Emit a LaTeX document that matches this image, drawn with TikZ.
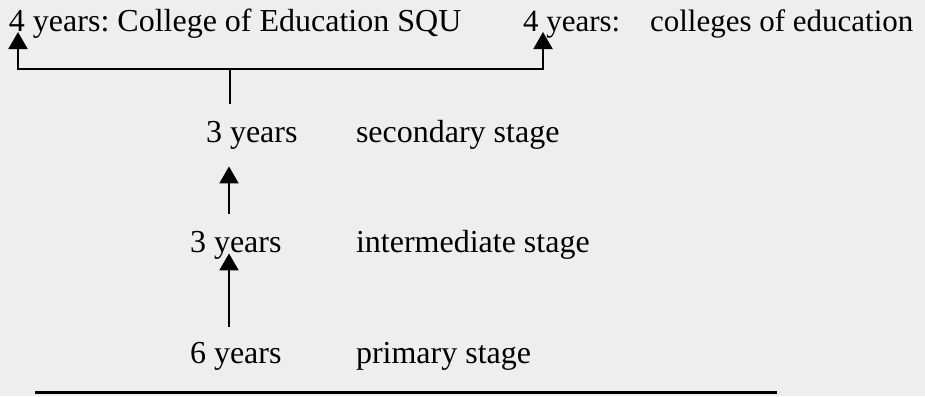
\documentclass[tikz,border=0pt]{standalone}
\usepackage{fontspec}
\setmainfont{Liberation Serif}
\usetikzlibrary{arrows.meta, positioning}

\definecolor{paper}{RGB}{238,238,238}
\frenchspacing

\begin{document}
\begin{tikzpicture}[x=0.5pt,y=-0.5pt,>={Triangle[length=8.5pt,width=9.5pt]},
                    line width=1pt]

  \tikzstyle{every node} = [font=\fontsize{16pt}{19pt}\selectfont, inner sep=0pt]
  \tikzstyle{lbl} = [anchor=base west]

  % background of the scan
  \fill[paper] (0,0) rectangle (925,396);
  \useasboundingbox (0,0) rectangle (925,396);

  \node[lbl] (squ)     at (8,32)    {4 years: College of Education SQU};
  \node[lbl,font=\fontsize{15.5pt}{19pt}\selectfont]
             (coe)     at (522,32)  {4 years:\hspace{11pt} colleges of education};
  \node[lbl] (sec)     at (205,142) {3 years};
  \node[lbl] (secname) at (355,142) {secondary stage};
  \node[lbl] (int)     at (189,252) {3 years};
  \node[lbl] (intname) at (355,252) {intermediate stage};
  \node[lbl] (pri)     at (189,363) {6 years};
  \node[lbl] (priname) at (355,363) {primary stage};

  \coordinate (split) at (230,69);
  \coordinate (ax)    at (229,0);

  \draw[shorten <=8pt] (sec.north -| split) -- (split);
  \draw[->] (split) -| ([xshift=5pt]squ.base west);
  \draw[->] (split) -| ([xshift=10.5pt]coe.base west);
  \draw[->,shorten <=8pt,shorten >=8.25pt] (int.north -| ax) -- (sec.south -| ax);
  \draw[->,shorten <=7pt,shorten >=-3.25pt] (pri.north -| ax) -- (int.south -| ax);

  % rule under the chart
  \coordinate (rulel) at (35,392);
  \coordinate (ruler) at (777,392);
  \draw[line width=1.5pt] (rulel) -- (ruler);
\end{tikzpicture}
\end{document}
